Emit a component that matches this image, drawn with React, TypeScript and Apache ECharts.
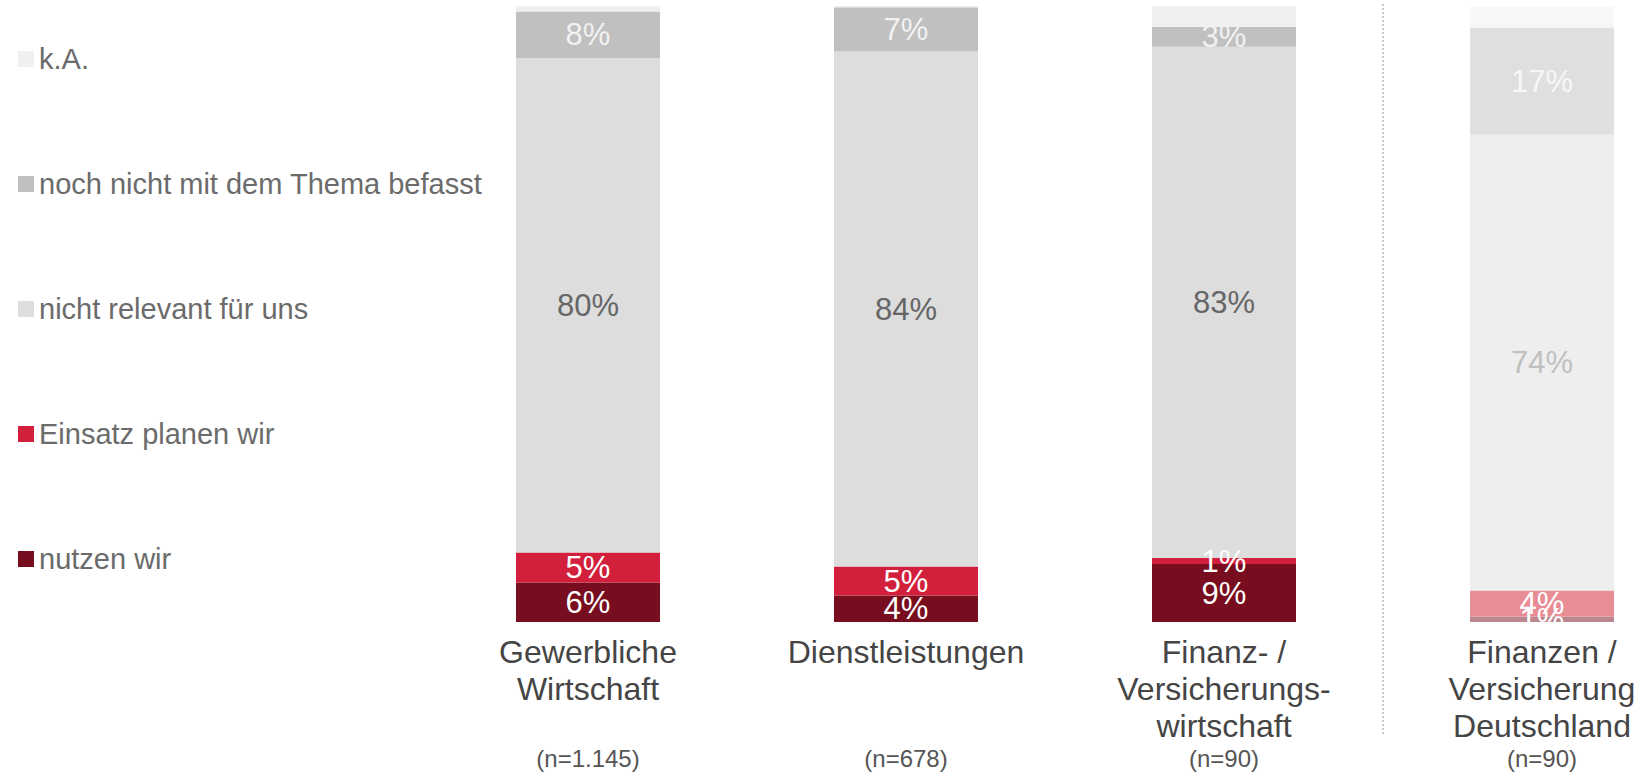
import React, { useEffect, useRef } from "react";
import * as echarts from "echarts";

const categories = [
  "Gewerbliche\nWirtschaft",
  "Dienstleistungen",
  "Finanz- /\nVersicherungs-\nwirtschaft",
  "Finanzen /\nVersicherung\nDeutschland",
];
const sampleSizes = ["(n=1.145)", "(n=678)", "(n=90)", "(n=90)"];

const nutzenWir = [6.4, 4.3, 9.4, 0.9];
const einsatzPlanen = [4.9, 4.7, 1.0, 4.2];
const nichtRelevant = [80.2, 83.6, 83.0, 74.0];
const nochNicht = [7.6, 7.2, 3.2, 17.4];
const keineAngabe = [0.9, 0.2, 3.4, 3.4];

const seriesNames = [
  "nutzen wir",
  "Einsatz planen wir",
  "nicht relevant für uns",
  "noch nicht mit dem Thema befasst",
  "k.A.",
];
const seriesColors = ["#770d1e", "#d21f3b", "#dddddd", "#c0c0c0", "#f0f0f0"];
const fadedColors = ["#bb868e", "#e88c96", "#eeeeee", "#dfdfdf", "#f7f7f7"];
const labelColors = ["#ffffff", "#ffffff", "#666666", "#f2f2f2", null];
const fadedLabelColors = ["#ffffff", "#ffffff", "#c0c0c0", "#f7f7f7", null];
const fadedIndex = 3;

const FONT = "'Liberation Sans', Arial, sans-serif";

export default function App() {
  const ref = useRef<HTMLDivElement>(null);

  useEffect(() => {
    if (!ref.current) return;
    const chart = echarts.init(ref.current, undefined, { renderer: "svg" });
    const allData = [nutzenWir, einsatzPlanen, nichtRelevant, nochNicht, keineAngabe];

    const series = allData.map((vals, si) => ({
      name: seriesNames[si],
      type: "bar",
      stack: "total",
      barWidth: 144,
      color: seriesColors[si],
      itemStyle: { color: seriesColors[si] },
      label: {
        show: labelColors[si] !== null,
        position: "inside",
        fontSize: 31,
        fontFamily: FONT,
        color: labelColors[si] || "#fff",
        formatter: (p: any) => Math.round(p.value) + "%",
      },
      data: vals.map((v, i) =>
        i === fadedIndex
          ? {
              value: v,
              itemStyle: { color: fadedColors[si] },
              label: { color: fadedLabelColors[si] || "#fff" },
            }
          : { value: v }
      ),
    }));

    chart.setOption({
      animation: false,
      textStyle: { fontFamily: FONT },
      legend: {
        orient: "vertical",
        left: 18,
        top: 44,
        padding: 0,
        itemWidth: 16,
        itemHeight: 16,
        itemGap: 95,
        icon: "rect",
        selectedMode: false,
        data: [...seriesNames].reverse(),
        textStyle: { fontSize: 29, lineHeight: 30, color: "#6b6b6b", fontFamily: FONT },
      },
      grid: { left: 429, right: 19, top: 6, bottom: 152 },
      xAxis: [
        {
          type: "category",
          data: categories,
          axisLine: { show: false },
          axisTick: { show: false },
          axisLabel: {
            interval: 0,
            fontSize: 32,
            lineHeight: 37,
            margin: 11,
            color: "#454545",
            fontFamily: FONT,
          },
        },
        {
          type: "category",
          data: sampleSizes,
          position: "bottom",
          offset: 116,
          axisLine: { show: false },
          axisTick: { show: false },
          axisLabel: {
            interval: 0,
            fontSize: 24,
            margin: 8,
            color: "#555555",
            fontFamily: FONT,
          },
        },
      ],
      yAxis: {
        type: "value",
        min: 0,
        max: 100,
        show: false,
        splitLine: { show: false },
      },
      series,
    });

    const x1 = chart.convertToPixel({ xAxisIndex: 0 }, categories[2]) as number;
    const x2 = chart.convertToPixel({ xAxisIndex: 0 }, categories[3]) as number;
    const sx = Math.round((x1 + x2) / 2);
    chart.setOption({
      graphic: [
        {
          type: "line",
          shape: { x1: sx, y1: 4, x2: sx, y2: 735 },
          style: { stroke: "#c8c8c8", lineWidth: 2, lineDash: [2, 2] },
          silent: true,
        },
      ],
    });

    return () => chart.dispose();
  }, []);

  return (
    <div
      style={{
        position: "absolute",
        left: 0,
        top: 0,
        width: 1634,
        height: 774,
        overflow: "hidden",
        background: "#fff",
      }}
    >
      <div ref={ref} style={{ width: 1720, height: 774 }} />
    </div>
  );
}
